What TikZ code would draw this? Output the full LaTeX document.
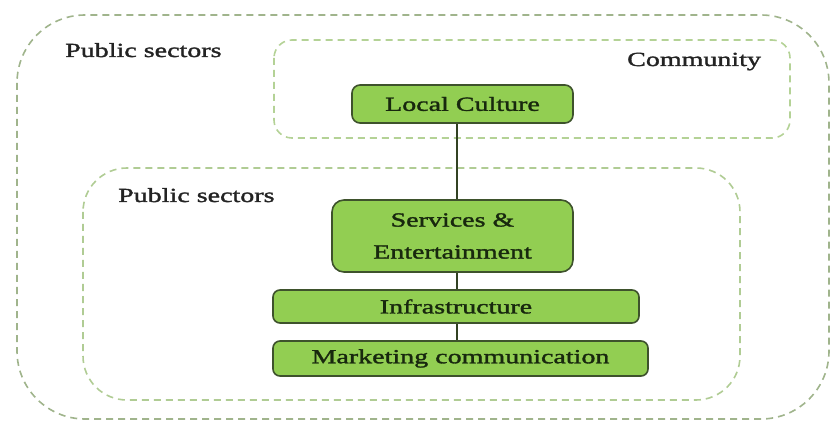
\documentclass[tikz,border=0pt]{standalone}
\usepackage{fontspec}
\setmainfont[FakeStretch=1.4,FakeBold=1.6]{Liberation Serif}
\definecolor{boxfill}{RGB}{146,206,82}
\definecolor{boxline}{RGB}{62,82,44}
\definecolor{boxtext}{RGB}{24,40,14}
\definecolor{labtext}{RGB}{35,35,35}
\definecolor{outerdash}{RGB}{160,180,140}
\definecolor{innerdash}{RGB}{180,210,150}
\tikzset{
  stepbox/.style={draw=boxline, fill=boxfill, line width=1.6pt, rounded corners=8pt,
    text=boxtext, font=\fontsize{20}{32}\selectfont, align=center, inner sep=0pt},
  zone/.style={dashed, dash pattern=on 7pt off 5pt, line width=1.6pt},
  lab/.style={text=labtext, font=\fontsize{20}{24}\selectfont, inner sep=0pt, anchor=base west},
  link/.style={draw=boxline!80!black, line width=1.4pt}
}
\begin{document}
\begin{tikzpicture}[x=1pt,y=-1pt]
\useasboundingbox (0,0) rectangle (833,422);
% zones
\draw[zone, draw=outerdash, rounded corners=68pt] (17,15) rectangle (829,419);
\draw[zone, draw=innerdash, rounded corners=18pt] (274,40) rectangle (790,138);
\draw[zone, draw=innerdash!80!outerdash, rounded corners=44pt] (83,168) rectangle (740,400);
% labels
\node[lab] (ps1) at (65,57) {Public sectors};
\node[lab] (ps2) at (118,202) {Public sectors};
\node[lab] (com) at (627,66) {Community};
% boxes
\node[stepbox, minimum width=221pt, minimum height=38pt] (lc) at (462.5,104) {Local Culture};
\node[stepbox, minimum width=241pt, minimum height=72pt, rounded corners=12pt] (se) at (452.5,236) {Services \&\\Entertainment};
\node[stepbox, minimum width=366pt, minimum height=33pt, rounded corners=7pt] (inf) at (456,306.5) {Infrastructure};
\node[stepbox, minimum width=375pt, minimum height=35pt, rounded corners=7pt] (mc) at (460.5,358.5) {Marketing communication};
% spine
\coordinate (spine) at (457,0);
\draw[link] (lc.south -| spine) -- (se.north -| spine);
\draw[link] (se.south -| spine) -- (inf.north -| spine);
\draw[link] (inf.south -| spine) -- (mc.north -| spine);
\end{tikzpicture}
\end{document}
